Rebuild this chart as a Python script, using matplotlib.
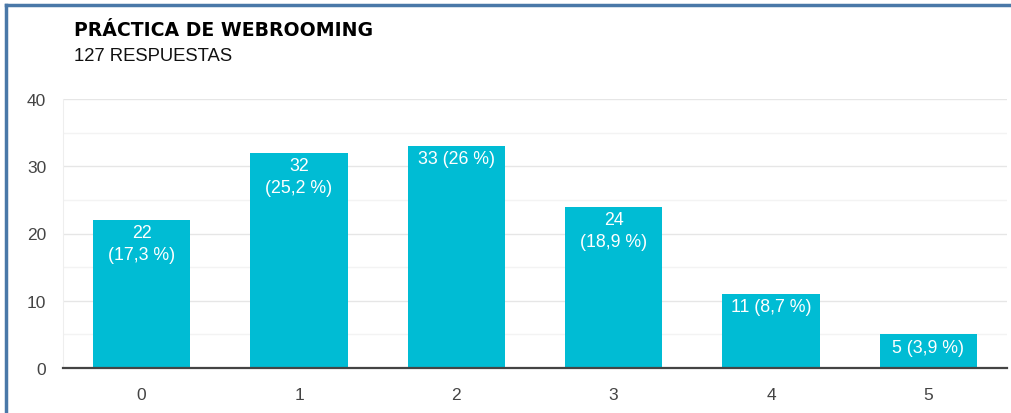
import matplotlib.pyplot as plt
from matplotlib.lines import Line2D
from matplotlib.ticker import MultipleLocator

# data
categories = ['0', '1', '2', '3', '4', '5']
counts = [22, 32, 33, 24, 11, 5]
bar_labels = ['22\n(17,3 %)', '32\n(25,2 %)', '33 (26 %)', '24\n(18,9 %)', '11 (8,7 %)', '5 (3,9 %)']
y_ticks = [0, 10, 20, 30, 40]

title = 'PRÁCTICA DE WEBROOMING'
subtitle = '127 RESPUESTAS'

bar_color = '#00BCD4'
text_gray = '#444444'

plt.rcParams['font.family'] = ['Liberation Sans', 'DejaVu Sans']

fig = plt.figure(figsize=(10.11, 4.14), dpi=100)
ax = fig.add_axes([63 / 1011, 1 - 369 / 414, 944 / 1011, 269 / 414])

x = list(range(len(categories)))
bars = ax.bar(x, counts, width=0.62, color=bar_color, zorder=3)

for b, lab in zip(bars, bar_labels):
    ax.annotate(lab, xy=(b.get_x() + b.get_width() / 2, b.get_height()),
                xytext=(0, -3), textcoords='offset points', ha='center', va='top',
                color='white', fontsize=12.8, linespacing=1.4, zorder=4)

ax.set_xlim(-0.5, 5.5)
ax.set_ylim(0, 40)
ax.set_xticks(x)
ax.set_xticklabels(categories)
ax.set_yticks(y_ticks)
ax.yaxis.set_minor_locator(MultipleLocator(5))

ax.grid(axis='y', which='major', color='#e6e6e6', linewidth=1, zorder=0)
ax.grid(axis='y', which='minor', color='#f3f3f3', linewidth=1, zorder=0)

for side in ['top', 'right']:
    ax.spines[side].set_visible(False)
ax.spines['left'].set_color('#eeeeee')
ax.spines['bottom'].set_color('#444444')
ax.spines['bottom'].set_linewidth(1.6)
ax.spines['bottom'].set_zorder(5)

ax.tick_params(axis='both', which='both', length=0, labelsize=12.5, labelcolor=text_gray)
ax.tick_params(axis='y', pad=12)
ax.tick_params(axis='x', pad=14)

fig.text(74 / 1011, 1 - 30 / 414, title, fontsize=13.6, fontweight='bold',
         family=['DejaVu Sans'], va='center', ha='left', color='black')
fig.text(74 / 1011, 1 - 57 / 414, subtitle, fontsize=13.3, va='center', ha='left', color='#111111')

# blue frame along the top and left edge
frame = '#4A78A8'
fig.add_artist(Line2D([6 / 1011, 1], [1 - 6 / 414, 1 - 6 / 414], color=frame, linewidth=2.5))
fig.add_artist(Line2D([6 / 1011, 6 / 1011], [0, 1 - 6 / 414], color=frame, linewidth=2.5))

fig.savefig('out.png', dpi=100)
